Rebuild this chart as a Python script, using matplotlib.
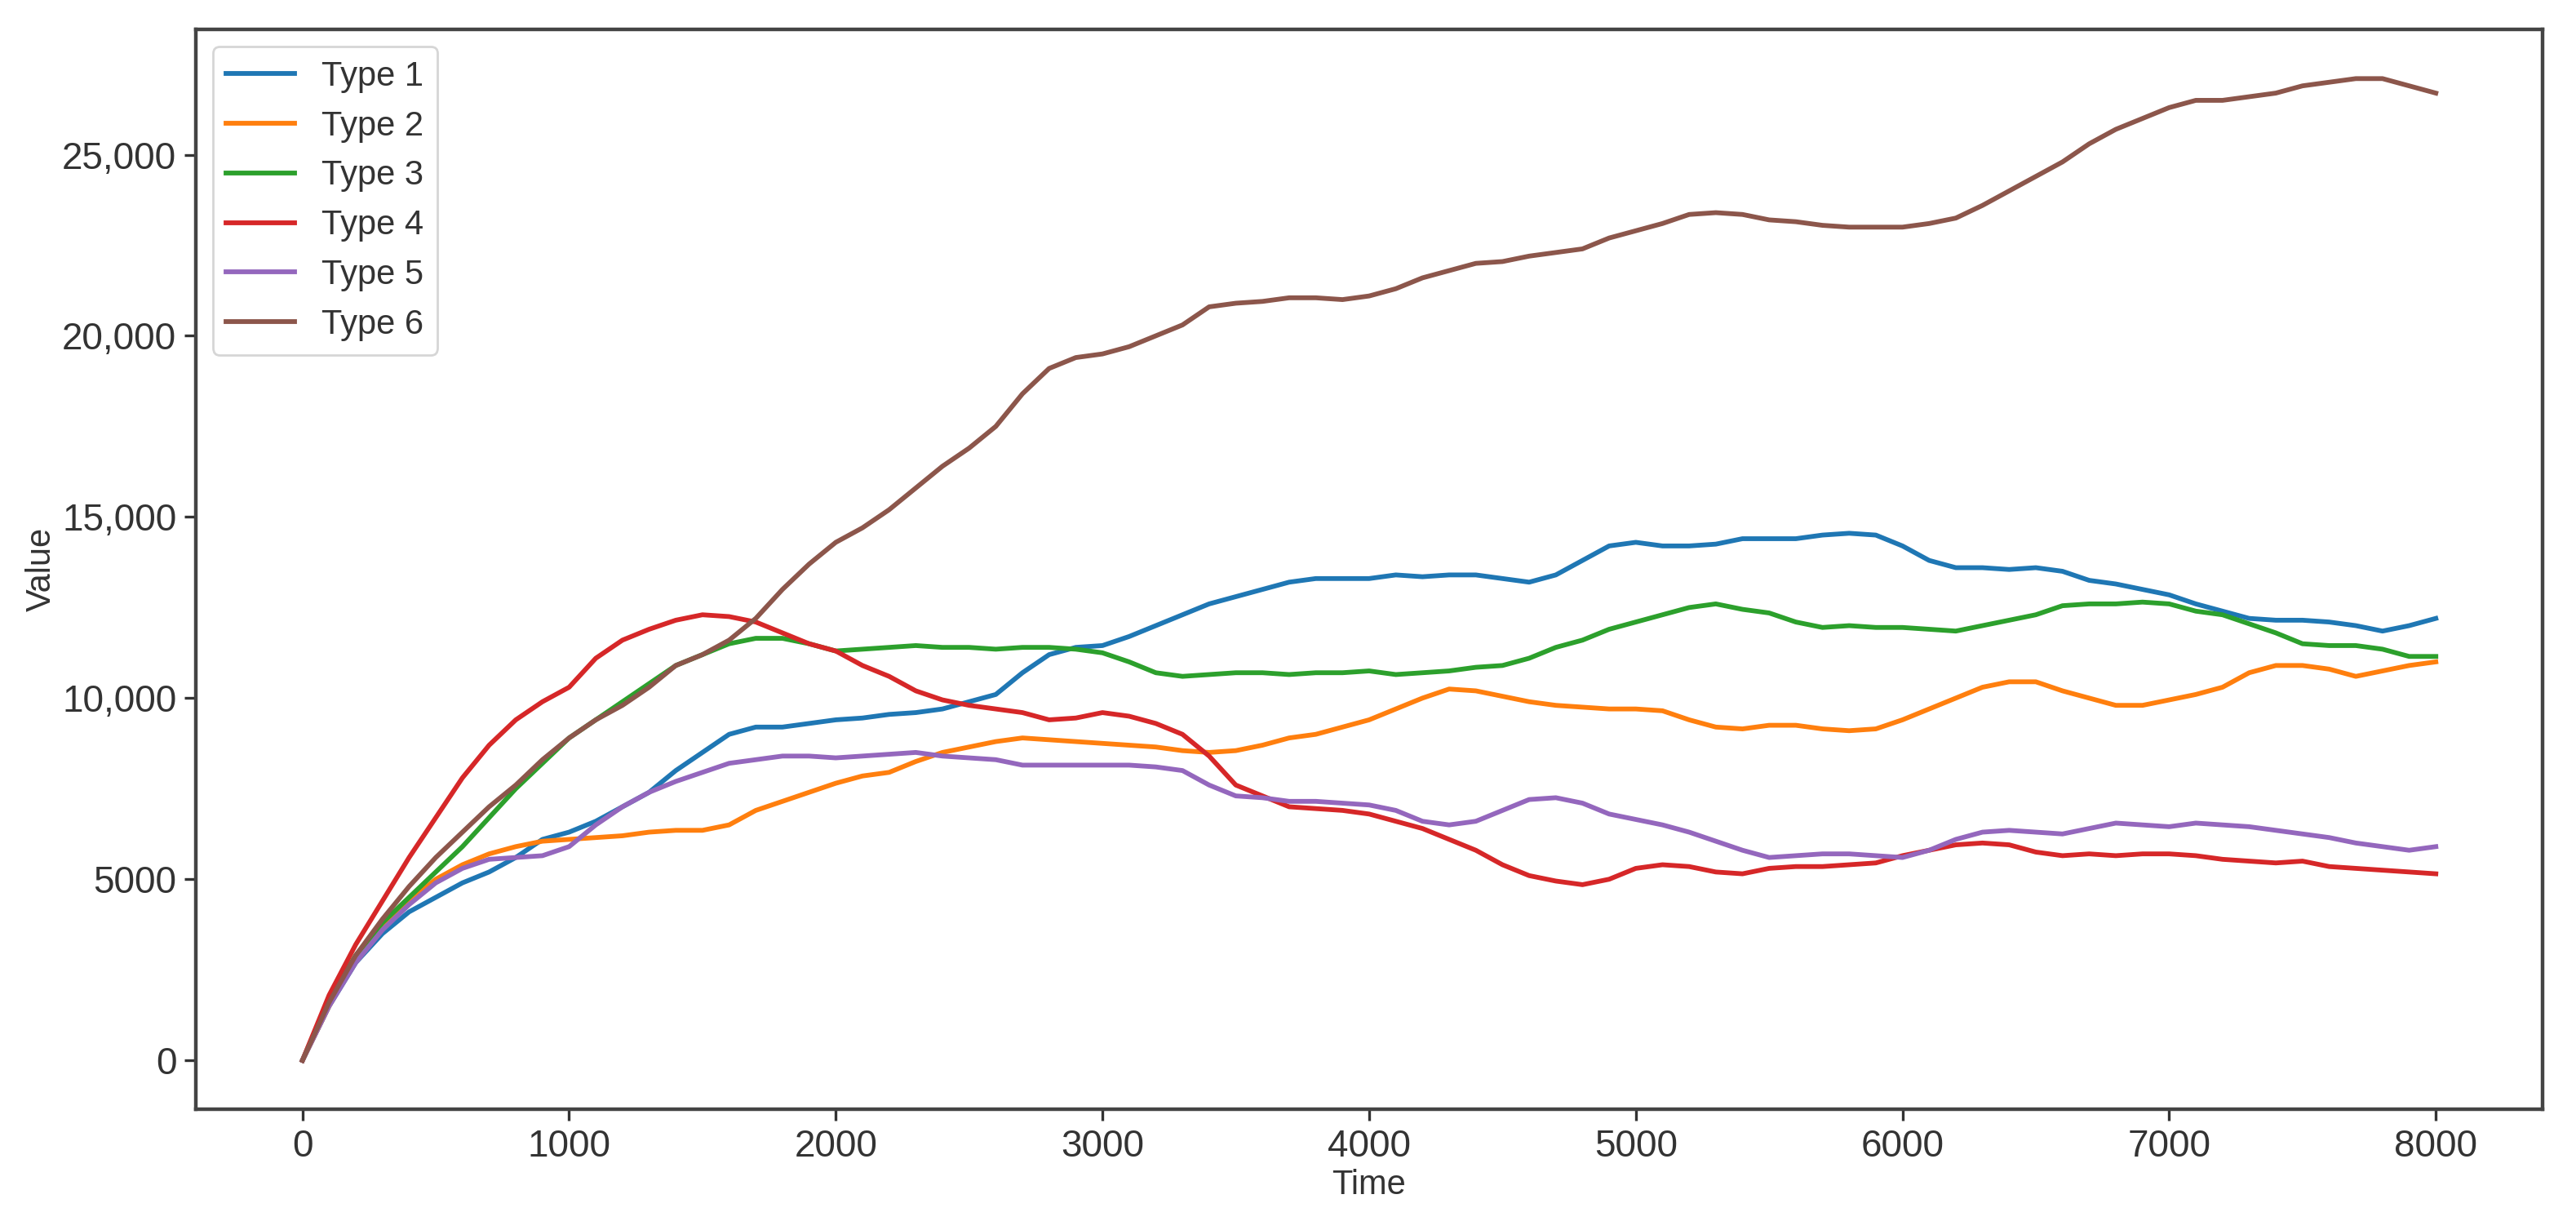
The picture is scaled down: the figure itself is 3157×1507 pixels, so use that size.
import matplotlib
matplotlib.use("Agg")
import matplotlib.pyplot as plt
from matplotlib.ticker import FuncFormatter
import numpy as np

plt.rcParams['font.family'] = ['Liberation Sans', 'DejaVu Sans']

# datos (cada 100 unidades de tiempo)
tiempo = np.arange(0, 8001, 100)

type1 = [0, 1500, 2700, 3500, 4100, 4500, 4900, 5200, 5600, 6100,
         6300, 6600, 7000, 7400, 8000, 8500, 9000, 9200, 9200, 9300,
         9400, 9450, 9550, 9600, 9700, 9900, 10100, 10700, 11200, 11400,
         11450, 11700, 12000, 12300, 12600, 12800, 13000, 13200, 13300, 13300,
         13300, 13400, 13350, 13400, 13400, 13300, 13200, 13400, 13800, 14200,
         14300, 14200, 14200, 14250, 14400, 14400, 14400, 14500, 14550, 14500,
         14200, 13800, 13600, 13600, 13550, 13600, 13500, 13250, 13150, 13000,
         12850, 12600, 12400, 12200, 12150, 12150, 12100, 12000, 11850, 12000,
         12200]

type2 = [0, 1500, 2800, 3700, 4400, 5000, 5400, 5700, 5900, 6050,
         6100, 6150, 6200, 6300, 6350, 6350, 6500, 6900, 7150, 7400,
         7650, 7850, 7950, 8250, 8500, 8650, 8800, 8900, 8850, 8800,
         8750, 8700, 8650, 8550, 8500, 8550, 8700, 8900, 9000, 9200,
         9400, 9700, 10000, 10250, 10200, 10050, 9900, 9800, 9750, 9700,
         9700, 9650, 9400, 9200, 9150, 9250, 9250, 9150, 9100, 9150,
         9400, 9700, 10000, 10300, 10450, 10450, 10200, 10000, 9800, 9800,
         9950, 10100, 10300, 10700, 10900, 10900, 10800, 10600, 10750, 10900,
         11000]

type3 = [0, 1700, 2900, 3800, 4500, 5200, 5900, 6700, 7500, 8200,
         8900, 9400, 9900, 10400, 10900, 11200, 11500, 11650, 11650, 11500,
         11300, 11350, 11400, 11450, 11400, 11400, 11350, 11400, 11400, 11350,
         11250, 11000, 10700, 10600, 10650, 10700, 10700, 10650, 10700, 10700,
         10750, 10650, 10700, 10750, 10850, 10900, 11100, 11400, 11600, 11900,
         12100, 12300, 12500, 12600, 12450, 12350, 12100, 11950, 12000, 11950,
         11950, 11900, 11850, 12000, 12150, 12300, 12550, 12600, 12600, 12650,
         12600, 12400, 12300, 12050, 11800, 11500, 11450, 11450, 11350, 11150,
         11150]

type4 = [0, 1800, 3200, 4400, 5600, 6700, 7800, 8700, 9400, 9900,
         10300, 11100, 11600, 11900, 12150, 12300, 12250, 12100, 11800, 11500,
         11300, 10900, 10600, 10200, 9950, 9800, 9700, 9600, 9400, 9450,
         9600, 9500, 9300, 9000, 8400, 7600, 7300, 7000, 6950, 6900,
         6800, 6600, 6400, 6100, 5800, 5400, 5100, 4950, 4850, 5000,
         5300, 5400, 5350, 5200, 5150, 5300, 5350, 5350, 5400, 5450,
         5650, 5800, 5950, 6000, 5950, 5750, 5650, 5700, 5650, 5700,
         5700, 5650, 5550, 5500, 5450, 5500, 5350, 5300, 5250, 5200,
         5150]

type5 = [0, 1500, 2700, 3600, 4300, 4900, 5300, 5550, 5600, 5650,
         5900, 6500, 7000, 7400, 7700, 7950, 8200, 8300, 8400, 8400,
         8350, 8400, 8450, 8500, 8400, 8350, 8300, 8150, 8150, 8150,
         8150, 8150, 8100, 8000, 7600, 7300, 7250, 7150, 7150, 7100,
         7050, 6900, 6600, 6500, 6600, 6900, 7200, 7250, 7100, 6800,
         6650, 6500, 6300, 6050, 5800, 5600, 5650, 5700, 5700, 5650,
         5600, 5800, 6100, 6300, 6350, 6300, 6250, 6400, 6550, 6500,
         6450, 6550, 6500, 6450, 6350, 6250, 6150, 6000, 5900, 5800,
         5900]

type6 = [0, 1600, 2900, 3900, 4800, 5600, 6300, 7000, 7600, 8300,
         8900, 9400, 9800, 10300, 10900, 11200, 11600, 12200, 13000, 13700,
         14300, 14700, 15200, 15800, 16400, 16900, 17500, 18400, 19100, 19400,
         19500, 19700, 20000, 20300, 20800, 20900, 20950, 21050, 21050, 21000,
         21100, 21300, 21600, 21800, 22000, 22050, 22200, 22300, 22400, 22700,
         22900, 23100, 23350, 23400, 23350, 23200, 23150, 23050, 23000, 23000,
         23000, 23100, 23250, 23600, 24000, 24400, 24800, 25300, 25700, 26000,
         26300, 26500, 26500, 26600, 26700, 26900, 27000, 27100, 27100, 26900,
         26700]

series = [type1, type2, type3, type4, type5, type6]
etiquetas = ["Type 1", "Type 2", "Type 3", "Type 4", "Type 5", "Type 6"]


def formato_valor(v, pos):
    # 5000 sin coma, 10,000 en adelante con coma
    if abs(v) >= 10000:
        return f"{v:,.0f}"
    return f"{v:.0f}"


fig, ax = plt.subplots(figsize=(15.785, 7.535), dpi=200)
fig.subplots_adjust(left=0.076, right=0.987, top=0.976, bottom=0.098)

for datos, nombre in zip(series, etiquetas):
    ax.plot(tiempo, datos, label=nombre, linewidth=2.1)

ax.yaxis.set_major_formatter(FuncFormatter(formato_valor))
ax.tick_params(axis="both", labelsize=16.5, colors="#333333", width=1.2, length=5)
ax.set_xlabel("Time", fontsize=15, color="#333333", labelpad=2)
ax.set_ylabel("Value", fontsize=15, color="#333333", labelpad=2)
for lado in ax.spines.values():
    lado.set_color("#444444")
    lado.set_linewidth(1.6)

ax.legend(loc="upper left", fontsize=15, labelcolor="#333333")

fig.savefig("out.png", dpi=200)
